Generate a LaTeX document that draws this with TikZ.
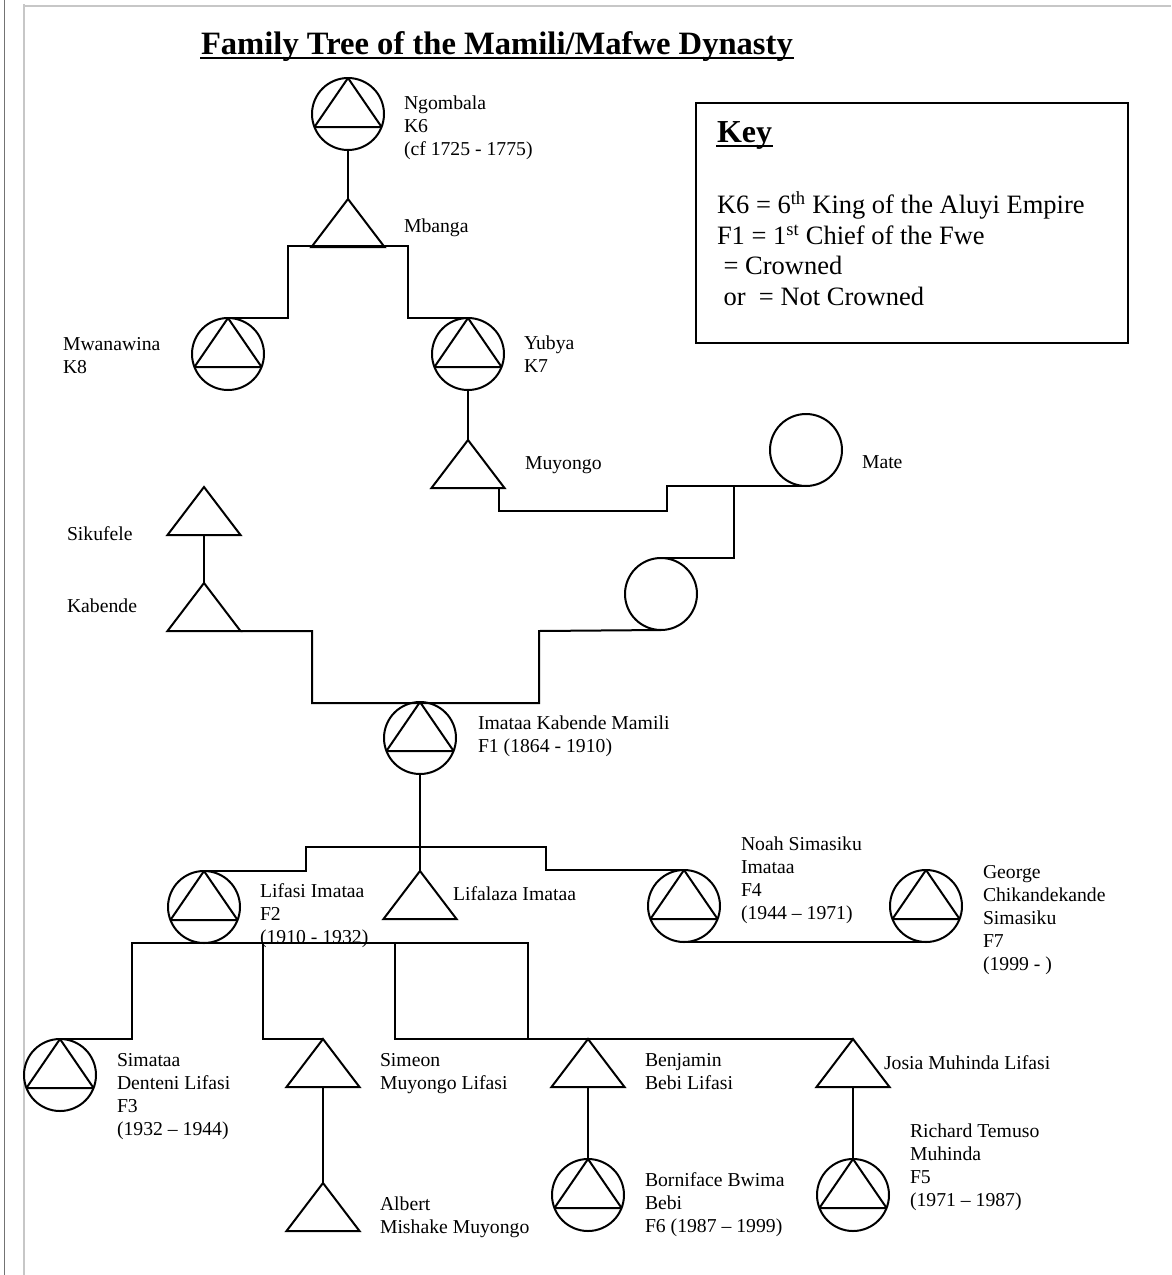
\documentclass[tikz,border=0pt]{standalone}
\usepackage{fontspec}
\setmainfont{Liberation Serif}
\usetikzlibrary{shapes.geometric}

\begin{document}
\begin{tikzpicture}
[x=1pt, y=-1pt, line width=2pt,
% STYLES
% The crowned style is a circle with a triangle drawn inside it
crowned/.style={circle, draw, minimum size=72pt, inner sep=0pt, outer sep=0pt,
  path picture={\draw (path picture bounding box.north)
    -- ([shift={(-33.6pt,-13pt)}]path picture bounding box.center)
    -- ([shift={(33.6pt,-13pt)}]path picture bounding box.center) -- cycle;}},
% The male style is a plain triangle
male/.style={isosceles triangle, isosceles triangle stretches, shape border rotate=90, draw,
  minimum width=73pt, minimum height=48pt, inner sep=0pt, outer sep=0pt},
% The female style is a plain circle
female/.style={circle, draw, minimum size=72pt, inner sep=0pt, outer sep=0pt},
% The lbl style is used to write the names beside each symbol
lbl/.style={anchor=north west, inner sep=0pt, align=left,
  font=\fontsize{19.7pt}{23pt}\selectfont, execute at begin node=\strut},
% The heading style is used for the underlined titles
heading/.style={anchor=base west, inner sep=0pt, font=\fontsize{32.6pt}{36pt}\selectfont\bfseries}]

\useasboundingbox (0,0) rectangle (1171,1275);

% page edges
\draw[line width=1.5pt, black!55] (4.5,0) -- (4.5,1275);
\draw[line width=2pt, black!22] (24,4) -- (24,1275);
\draw[line width=2pt, black!22] (23,6) -- (1171,6);

% Title
\node [heading] (title) at (200,54) {Family Tree of the Mamili/Mafwe Dynasty};
\draw ([yshift=-4pt]title.base west) -- ([yshift=-4pt]title.base east);

% Key
\node [draw, line width=2.5pt, anchor=north west, minimum width=432pt, minimum height=240pt,
  inner sep=0pt, outer sep=0pt] (key) at (696,103) {};
\node [heading, font=\fontsize{32pt}{36pt}\selectfont\bfseries] (key-title) at (716,142) {Key};
\draw ([yshift=-4pt]key-title.base west) -- ([yshift=-4pt]key-title.base east);
\node [lbl, font=\fontsize{26.5pt}{30.5pt}\selectfont] (key-text) at (716,191)
{K6 = 6\textsuperscript{th} King of the Aluyi Empire\\
 F1 = 1\textsuperscript{st} Chief of the Fwe\\
 \hspace*{0.25em}= Crowned\\
 \hspace*{0.25em}or\hspace*{0.5em}= Not Crowned};

% Draw people
\node [crowned] (ngombala) at (348,114) {};
\node [male, anchor=apex] (mbanga) at (348,199) {};
\node [crowned] (mwanawina) at (228,354) {};
\node [crowned] (yubya) at (468,354) {};
\node [male, anchor=apex] (muyongo) at (468,440) {};
\node [female] (mate) at (806,450) {};
\node [female] (wife) at (661,594) {};
\node [male, anchor=apex] (sikufele) at (204,487) {};
\node [male, anchor=apex] (kabende) at (204,583) {};
\node [crowned] (imataa) at (420,738) {};
\node [crowned] (lifasi) at (204,907) {};
\node [male, anchor=apex] (lifalaza) at (420,871) {};
\node [crowned] (noah) at (684,906) {};
\node [crowned] (george) at (926,906) {};
\node [crowned] (simataa) at (60,1075) {};
\node [male, anchor=apex] (simeon) at (323,1039) {};
\node [male, anchor=apex] (albert) at (323,1183) {};
\node [male, anchor=apex] (benjamin) at (588,1039) {};
\node [male, anchor=apex] (josia) at (853,1039) {};
\node [crowned] (borniface) at (588,1195) {};
\node [crowned] (richard) at (853,1195) {};

%%%%%%%%%%%%%%%
% Names

\node [lbl] (lbl-ngombala) at (403,95) {Ngombala\\K6\\(cf 1725 - 1775)};
\node [lbl] (lbl-mbanga) at (403,215) {Mbanga};
\node [lbl] (lbl-mwanawina) at (62,336) {Mwanawina\\K8};
\node [lbl] (lbl-yubya) at (523,335) {Yubya\\K7};
\node [lbl] (lbl-muyongo) at (524,452) {Muyongo};
\node [lbl] (lbl-mate) at (861,451) {Mate};
\node [lbl] (lbl-sikufele) at (66,523) {Sikufele};
\node [lbl] (lbl-kabende) at (66,595) {Kabende};
\node [lbl] (lbl-imataa) at (477,715) {Imataa Kabende Mamili\\F1 (1864 - 1910)};
\node [lbl] (lbl-lifasi) at (259,883) {Lifasi Imataa\\F2\\(1910 - 1932)};
\node [lbl] (lbl-lifalaza) at (452,883) {Lifalaza Imataa};
\node [lbl] (lbl-noah) at (740,836) {Noah Simasiku\\Imataa\\F4\\(1944 – 1971)};
\node [lbl] (lbl-george) at (982,864) {George\\Chikandekande\\Simasiku\\F7\\(1999 - )};
\node [lbl] (lbl-simataa) at (116,1052) {Simataa\\Denteni Lifasi\\F3\\(1932 – 1944)};
\node [lbl] (lbl-simeon) at (379,1052) {Simeon\\Muyongo Lifasi};
\node [lbl] (lbl-albert) at (379,1196) {Albert\\Mishake Muyongo};
\node [lbl] (lbl-benjamin) at (644,1052) {Benjamin\\Bebi Lifasi};
\node [lbl] (lbl-josia) at (883,1052) {Josia Muhinda Lifasi};
\node [lbl] (lbl-borniface) at (644,1172) {Borniface Bwima\\Bebi\\F6 (1987 – 1999)};
\node [lbl] (lbl-richard) at (909,1123) {Richard Temuso\\Muhinda\\F5\\(1971 – 1987)};

%%%%%%%%%%%%%%%
% Junction points
\coordinate (mb-l) at (288,246);
\coordinate (mb-r) at (408,246);
\coordinate (mm-a) at (499,487);
\coordinate (mm-b) at (667,511);
\coordinate (mm-c) at (734,487);
\coordinate (km-a) at (312,703);
\coordinate (km-b) at (539,631);
\coordinate (ic-l) at (306,847);
\coordinate (ic-r) at (546,847);
\coordinate (lc-1) at (132,943);
\coordinate (lc-2) at (263,943);
\coordinate (lc-3) at (395,943);
\coordinate (lc-4) at (528,943);

% Draw the links between people
\draw (ngombala.south) -- (mbanga.apex);
\draw (mwanawina.north) -| (mb-l) -- (mb-r) |- (yubya.north);
\draw (yubya.south) -- (muyongo.apex);
\draw (mm-a) |- (mm-b) |- (mate.south);
\draw (mm-c) |- (wife.north);
\draw (sikufele.lower side) -- (kabende.apex);
\draw (kabende.right corner) -| (km-a) -| (km-b) -- (wife.south);
\draw (imataa.south) -- (lifalaza.apex);
\draw (lifasi.north) -| (ic-l) -- (ic-r) |- (noah.north);
\draw (noah.south) -- (george.south);
\draw (simataa.north) -| (lc-1) -- (lc-4) -- (lc-4 |- josia.apex);
\draw (lc-2) |- (simeon.apex);
\draw (lc-3) |- (josia.apex);
\draw (simeon.lower side) -- (albert.apex);
\draw (benjamin.lower side) -- (borniface.north);
\draw (josia.lower side) -- (richard.north);

\end{tikzpicture}
\end{document}
